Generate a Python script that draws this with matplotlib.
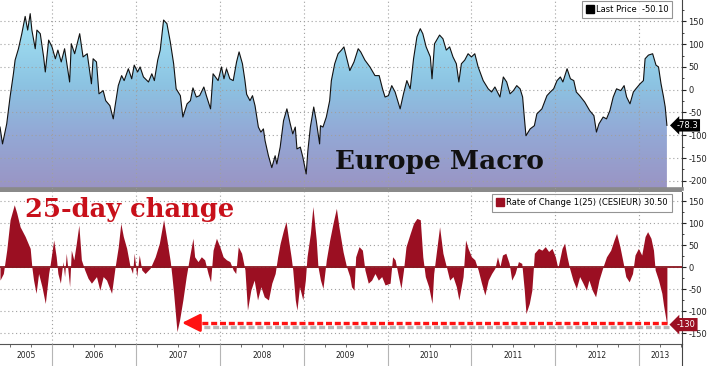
import numpy as np
import matplotlib
matplotlib.use("Agg")
import matplotlib.pyplot as plt
from matplotlib.patches import PathPatch, Rectangle
from matplotlib.path import Path
from matplotlib.colors import LinearSegmentedColormap
from matplotlib.lines import Line2D
from matplotlib.ticker import MultipleLocator, FixedLocator, NullFormatter
import matplotlib.patheffects as pe
import matplotlib.transforms as mtrans

plt.rcParams['axes.unicode_minus'] = False
plt.rcParams['font.family'] = ['DejaVu Sans']

# ---------------- data (decimal years, index values) ----------------
top_x = [2005.38, 2005.41, 2005.46, 2005.50, 2005.54, 2005.56, 2005.60, 2005.64, 2005.68, 2005.71,
         2005.74, 2005.76, 2005.80, 2005.82, 2005.86, 2005.90, 2005.92, 2005.96, 2006.00, 2006.04,
         2006.07, 2006.11, 2006.15, 2006.21, 2006.23, 2006.27, 2006.33, 2006.37, 2006.42, 2006.47,
         2006.49, 2006.53, 2006.56, 2006.61, 2006.64, 2006.69, 2006.73, 2006.75, 2006.79, 2006.83,
         2006.86, 2006.91, 2006.95, 2006.98, 2007.02, 2007.05, 2007.09, 2007.15, 2007.19, 2007.22,
         2007.26, 2007.29, 2007.33, 2007.37, 2007.41, 2007.45, 2007.48, 2007.53, 2007.56, 2007.61,
         2007.65, 2007.68, 2007.72, 2007.76, 2007.81, 2007.84, 2007.89, 2007.92, 2007.98, 2008.02,
         2008.05, 2008.08, 2008.12, 2008.16, 2008.20, 2008.23, 2008.27, 2008.30, 2008.32, 2008.36,
         2008.39, 2008.42, 2008.46, 2008.49, 2008.52, 2008.54, 2008.58, 2008.62, 2008.66, 2008.68,
         2008.72, 2008.76, 2008.80, 2008.84, 2008.87, 2008.90, 2008.92, 2008.96, 2008.99, 2009.03,
         2009.05, 2009.08, 2009.12, 2009.15, 2009.19, 2009.20, 2009.23, 2009.27, 2009.31, 2009.33,
         2009.37, 2009.41, 2009.45, 2009.48, 2009.51, 2009.55, 2009.60, 2009.65, 2009.68, 2009.73,
         2009.79, 2009.85, 2009.90, 2009.94, 2009.97, 2010.01, 2010.05, 2010.09, 2010.15, 2010.19,
         2010.23, 2010.27, 2010.31, 2010.35, 2010.39, 2010.42, 2010.46, 2010.51, 2010.53, 2010.56,
         2010.62, 2010.66, 2010.70, 2010.74, 2010.78, 2010.82, 2010.85, 2010.88, 2010.92, 2010.96,
         2011.00, 2011.04, 2011.08, 2011.14, 2011.20, 2011.24, 2011.28, 2011.34, 2011.38, 2011.42,
         2011.46, 2011.50, 2011.54, 2011.58, 2011.61, 2011.63, 2011.65, 2011.70, 2011.75, 2011.78,
         2011.84, 2011.90, 2011.94, 2011.98, 2012.02, 2012.06, 2012.09, 2012.14, 2012.18, 2012.22,
         2012.25, 2012.29, 2012.35, 2012.41, 2012.46, 2012.49, 2012.52, 2012.57, 2012.61, 2012.65,
         2012.69, 2012.73, 2012.78, 2012.82, 2012.85, 2012.89, 2012.93, 2012.96, 2013.01, 2013.05,
         2013.07, 2013.11, 2013.16, 2013.20, 2013.23, 2013.26, 2013.29, 2013.31, 2013.33]
top_v = [-82, -119, -75, -16, 35, 65, 90, 123, 161, 131,
         167, 131, 90, 131, 123, 72, 39, 109, 94, 68,
         87, 61, 90, 17, 101, 79, 123, 72, 79, 13,
         68, 61, -9, -2, -24, -35, -64, -38, 9, 31,
         20, 46, 24, 54, 39, 50, 28, 17, 35, 20,
         65, 87, 153, 145, 105, 57, 2, -13, -60, -31,
         -24, 4, -16, -13, 6, -13, -42, 35, 20, 50,
         24, 46, 24, 20, 61, 83, 57, 20, -10, -24,
         -13, -35, -82, -93, -86, -112, -145, -171, -145, -163,
         -126, -68, -42, -75, -97, -82, -130, -126, -148, -185,
         -134, -82, -38, -68, -119, -79, -82, -60, -24, 20,
         57, 79, 87, 94, 72, 42, 61, 90, 83, 65,
         50, 31, 31, 2, -16, -13, 9, -5, -42, -9,
         20, 2, 68, 116, 134, 123, 94, 72, 24, 101,
         120, 112, 87, 94, 72, 57, 17, 57, 65, 79,
         72, 79, 50, 20, 2, -5, 6, -16, 28, 17,
         -9, -2, 9, 2, -16, -60, -101, -86, -79, -53,
         -42, -13, -5, 2, 20, 28, 17, 46, 24, 20,
         -5, -13, -27, -46, -57, -93, -75, -60, -64, -46,
         -16, 2, -2, 9, -16, -31, -5, 2, 13, 20,
         68, 76, 79, 54, 50, 13, -16, -38, -78.3]

roc_x = [2005.38, 2005.42, 2005.46, 2005.50, 2005.55, 2005.58, 2005.62, 2005.68, 2005.74, 2005.76,
         2005.78, 2005.81, 2005.84, 2005.88, 2005.92, 2005.96, 2005.98, 2006.02, 2006.05, 2006.07,
         2006.10, 2006.13, 2006.15, 2006.17, 2006.21, 2006.23, 2006.26, 2006.29, 2006.32, 2006.35,
         2006.39, 2006.43, 2006.47, 2006.53, 2006.57, 2006.61, 2006.65, 2006.71, 2006.75, 2006.79,
         2006.82, 2006.85, 2006.89, 2006.93, 2006.96, 2006.98, 2007.01, 2007.04, 2007.07, 2007.11,
         2007.17, 2007.23, 2007.28, 2007.33, 2007.37, 2007.41, 2007.43, 2007.45, 2007.49, 2007.52,
         2007.56, 2007.60, 2007.64, 2007.68, 2007.70, 2007.74, 2007.78, 2007.82, 2007.86, 2007.89,
         2007.92, 2007.96, 2008.00, 2008.04, 2008.08, 2008.12, 2008.16, 2008.19, 2008.22, 2008.26,
         2008.30, 2008.33, 2008.37, 2008.41, 2008.45, 2008.49, 2008.53, 2008.58, 2008.62, 2008.66,
         2008.69, 2008.72, 2008.76, 2008.79, 2008.82, 2008.85, 2008.87, 2008.90, 2008.92, 2008.95,
         2008.99, 2009.02, 2009.04, 2009.08, 2009.11, 2009.15, 2009.17, 2009.20, 2009.23, 2009.27,
         2009.31, 2009.35, 2009.39, 2009.42, 2009.47, 2009.51, 2009.55, 2009.57, 2009.60, 2009.62,
         2009.66, 2009.70, 2009.73, 2009.77, 2009.81, 2009.85, 2009.89, 2009.93, 2009.97, 2010.03,
         2010.06, 2010.09, 2010.13, 2010.16, 2010.19, 2010.22, 2010.27, 2010.31, 2010.35, 2010.39,
         2010.42, 2010.45, 2010.49, 2010.53, 2010.55, 2010.59, 2010.62, 2010.66, 2010.70, 2010.74,
         2010.78, 2010.82, 2010.85, 2010.90, 2010.93, 2010.96, 2011.00, 2011.04, 2011.08, 2011.12,
         2011.16, 2011.20, 2011.24, 2011.28, 2011.31, 2011.34, 2011.37, 2011.41, 2011.45, 2011.48,
         2011.52, 2011.56, 2011.60, 2011.63, 2011.65, 2011.69, 2011.72, 2011.75, 2011.80, 2011.84,
         2011.88, 2011.92, 2011.96, 2012.00, 2012.03, 2012.08, 2012.11, 2012.14, 2012.17, 2012.21,
         2012.25, 2012.29, 2012.33, 2012.37, 2012.40, 2012.44, 2012.48, 2012.52, 2012.57, 2012.61,
         2012.66, 2012.70, 2012.73, 2012.77, 2012.81, 2012.84, 2012.88, 2012.92, 2012.95, 2012.99,
         2013.03, 2013.07, 2013.10, 2013.14, 2013.17, 2013.19, 2013.23, 2013.27, 2013.29, 2013.32,
         2013.33]
roc_v = [-29, -14, 39, 108, 142, 123, 92, 70, 43, 0,
         -29, -59, -14, -44, -82, -14, 9, 62, 24, -14,
         -36, 13, -21, 32, -44, 39, 17, 55, 96, 17,
         -6, -25, -36, -21, -52, -21, -29, -59, -2, 47,
         100, 70, 43, 2, -14, 32, -21, 28, -6, -14,
         -2, 24, 55, 108, 62, 13, -21, -59, -146, -120,
         -74, -21, 24, 66, 24, 13, 24, 17, -14, -33,
         39, 66, 47, 24, 17, 13, -6, -14, 47, 32,
         -6, -97, -52, -29, -74, -44, -67, -74, -36, -14,
         24, 55, 85, 104, 62, 24, -6, -74, -97, -44,
         -74, -29, 24, 77, 138, 62, 2, -29, -48, 17,
         62, 100, 134, 92, 35, 2, -21, -44, -52, 24,
         47, 39, -6, -36, -29, -14, -29, -21, -40, -36,
         24, 17, -21, -48, -6, 47, 77, 100, 111, 108,
         24, -21, -44, -82, -14, 47, 92, 32, 2, -29,
         -21, -44, -74, -21, 62, 43, 24, 17, -6, -36,
         -63, -29, -14, -2, 24, 2, 28, 32, 9, -29,
         -14, 13, 9, -52, -105, -82, -52, 32, 43, 39,
         47, 36, 43, 24, -2, 43, 55, 24, -2, -29,
         -48, -21, -36, -52, -29, -52, -67, -29, 2, 24,
         39, 62, 77, 47, 9, -21, -33, -14, 28, 43,
         28, 70, 81, 66, 39, -6, -29, -59, -86, -120,
         -130]

years = [2005, 2006, 2007, 2008, 2009, 2010, 2011, 2012, 2013]
top_ticks = [-200, -150, -100, -50, 0, 50, 100, 150]
roc_ticks = [-150, -100, -50, 0, 50, 100, 150]
last_price_label = "Last Price  -50.10"
roc_label = "Rate of Change 1(25) (CESIEUR) 30.50"
top_tag = "-78.3"
roc_tag = "-130"

assert len(top_x) == len(top_v), (len(top_x), len(top_v))
assert len(roc_x) == len(roc_v), (len(roc_x), len(roc_v))

# ---------------- layout ----------------
W, H = 708, 366
fig = plt.figure(figsize=(W / 100, H / 100), dpi=100)
fig.patch.set_facecolor('white')


def px_rect(x0, y0, x1, y1):
    return [x0 / W, 1 - y1 / H, (x1 - x0) / W, (y1 - y0) / H]


XLIM = (2005.38, 2013.51)
TOP_YLIM = (-218, 197)
ROC_YLIM = (-174, 171)

ax1 = fig.add_axes(px_rect(0, 0, 682, 189))
ax2 = fig.add_axes(px_rect(0, 192, 682, 344))

grid_kw = dict(color='#a0a0a0', linestyle=(0, (1, 2.5)), linewidth=0.8)

# ---------------- top panel ----------------
ax1.set_xlim(XLIM)
ax1.set_ylim(TOP_YLIM)
cmap = LinearSegmentedColormap.from_list(
    'bbg', [(0.0, '#9a94c4'), (0.30, '#93a9d6'), (0.55, '#8cc3e2'), (1.0, '#a8ecfa')])
grad = np.linspace(0, 1, 256).reshape(-1, 1)
im = ax1.imshow(grad, extent=[XLIM[0], XLIM[1], TOP_YLIM[0], TOP_YLIM[1]], origin='lower',
                aspect='auto', cmap=cmap, zorder=1, interpolation='bilinear')
tx = np.asarray(top_x)
tv = np.asarray(top_v)
verts = np.column_stack([np.r_[tx, tx[::-1]], np.r_[tv, np.full(len(tx), TOP_YLIM[0])]])
clip = PathPatch(Path(verts), facecolor='none', edgecolor='none', transform=ax1.transData)
ax1.add_patch(clip)
im.set_clip_path(clip)
ax1.plot(tx, tv, color='#111111', lw=0.8, zorder=4)
ax1.set_xlim(XLIM)
ax1.set_ylim(TOP_YLIM)

ax1.set_axisbelow(False)
ax1.yaxis.set_major_locator(FixedLocator(top_ticks))
ax1.yaxis.set_minor_locator(MultipleLocator(25))
ax1.xaxis.set_major_locator(FixedLocator(years[1:]))
ax1.grid(True, which='major', **grid_kw)
ax1.yaxis.tick_right()
ax1.tick_params(axis='y', which='major', length=3, width=0.8, pad=1.5, labelsize=6, colors='#222222')
ax1.tick_params(axis='y', which='minor', length=1.5, width=0.6, colors='#222222')
ax1.tick_params(axis='x', which='both', length=0, labelbottom=False)
for s in ('top', 'left'):
    ax1.spines[s].set_visible(False)
ax1.spines['right'].set_color('#444444')
ax1.spines['right'].set_linewidth(0.8)
ax1.spines['bottom'].set_color('#8a8a8a')
ax1.spines['bottom'].set_linewidth(2.6)

leg1 = ax1.legend(handles=[Line2D([], [], marker='s', ls='none', color='black', markersize=6)],
                  labels=[last_price_label], loc='upper right', bbox_to_anchor=(0.986, 0.997),
                  frameon=True, fancybox=False, fontsize=6, borderpad=0.5, handletextpad=0.2,
                  handlelength=0.9, borderaxespad=0)
leg1.get_frame().set_edgecolor('#7a7a7a')
leg1.get_frame().set_linewidth(0.8)
leg1.set_zorder(10)

ax1.annotate(top_tag, xy=(top_x[-1], top_v[-1]), xytext=(7, 0), textcoords='offset points',
             ha='left', va='center', fontsize=6, color='white', annotation_clip=False,
             bbox=dict(boxstyle='larrow,pad=0.2', fc='black', ec='none'), zorder=12)

# ---------------- bottom panel ----------------
ax2.set_xlim(XLIM)
ax2.set_ylim(ROC_YLIM)
ax2.fill_between(roc_x, roc_v, 0, color='#9b0f22', lw=0, zorder=3)
ax2.axhline(0, color='#8a1620', lw=1.3, zorder=3.5)

ax2.set_axisbelow(False)
ax2.yaxis.set_major_locator(FixedLocator(roc_ticks))
ax2.yaxis.set_minor_locator(MultipleLocator(25))
ax2.xaxis.set_major_locator(FixedLocator(years[1:]))
ax2.xaxis.set_minor_locator(FixedLocator([y + q for y in years for q in (0.25, 0.5, 0.75)]))
ax2.xaxis.set_major_formatter(NullFormatter())
ax2.grid(True, which='major', **grid_kw)
ax2.yaxis.tick_right()
ax2.tick_params(axis='y', which='major', length=3, width=0.8, pad=1.5, labelsize=6, colors='#222222')
ax2.tick_params(axis='y', which='minor', length=1.5, width=0.6, colors='#222222')
ax2.tick_params(axis='x', which='major', length=16, width=0.8, color='#b5b5b5', direction='out')
ax2.tick_params(axis='x', which='minor', length=2.5, width=0.6, color='#555555', direction='out')
for s in ('top', 'left'):
    ax2.spines[s].set_visible(False)
ax2.spines['right'].set_color('#444444')
ax2.spines['right'].set_linewidth(0.8)
ax2.spines['bottom'].set_color('#555555')
ax2.spines['bottom'].set_linewidth(0.8)

# year labels centred in each year span
blend = mtrans.blended_transform_factory(ax2.transData, ax2.transAxes)
for y in years:
    lo = max(y, XLIM[0])
    hi = min(y + 1, XLIM[1])
    ax2.text((lo + hi) / 2, -12 / 152, str(y), transform=blend, ha='center', va='center',
             fontsize=5.5, color='#222222', clip_on=False)

leg2 = ax2.legend(handles=[Line2D([], [], marker='s', ls='none', color='#9b0f22', markersize=6)],
                  labels=[roc_label], loc='upper right', bbox_to_anchor=(0.985, 0.988),
                  frameon=True, fancybox=False, fontsize=6, borderpad=0.55, handletextpad=0.2,
                  handlelength=0.9, borderaxespad=0)
leg2.get_frame().set_edgecolor('#7a7a7a')
leg2.get_frame().set_linewidth(0.8)
leg2.set_zorder(10)

ax2.annotate(roc_tag, xy=(roc_x[-1], roc_v[-1]), xytext=(7, 0), textcoords='offset points',
             ha='left', va='center', fontsize=6, color='white', annotation_clip=False,
             bbox=dict(boxstyle='larrow,pad=0.25', fc='#9b0f22', ec='none'), zorder=12)

# red dashed arrow (annotation)
arrow_y = -126
tip_x = 2007.55
shadow = [pe.SimpleLineShadow(offset=(1.5, -3), shadow_color='#8a8a8a', alpha=0.6), pe.Normal()]
ax2.plot([tip_x + 0.13, roc_x[-1]], [arrow_y, arrow_y], color='#ff1212', lw=2.4,
         linestyle=(0, (1.8, 0.85)), zorder=6, path_effects=shadow, solid_capstyle='butt')
ax2.annotate('', xy=(tip_x, arrow_y), xytext=(tip_x + 0.18, arrow_y),
             arrowprops=dict(arrowstyle='-|>,head_length=1.1,head_width=0.55', color='#ff1212',
                             lw=2.0, shrinkA=0, shrinkB=0, mutation_scale=10), zorder=7)

# separator bar and right axis line through the date area
fig.add_artist(Rectangle((0, 1 - 191.5 / H), 682 / W, 3 / H, transform=fig.transFigure,
                         facecolor='#8a8a8a', edgecolor='none', zorder=5))
fig.add_artist(Line2D([682 / W, 682 / W], [0, 22 / H], transform=fig.transFigure,
                      color='#444444', lw=0.8))

# headline texts
fig.text(335 / W, 1 - 168.5 / H, "Europe Macro", family='DejaVu Serif', fontsize=19,
         fontweight='bold', color='#111111', ha='left', va='baseline', zorder=20)
fig.text(25 / W, 1 - 216.7 / H, "25-day change", family='DejaVu Serif', fontsize=18.5,
         fontweight='bold', color='#c8101a', ha='left', va='baseline', zorder=20)

fig.savefig('out.png', dpi=100, facecolor='white')
